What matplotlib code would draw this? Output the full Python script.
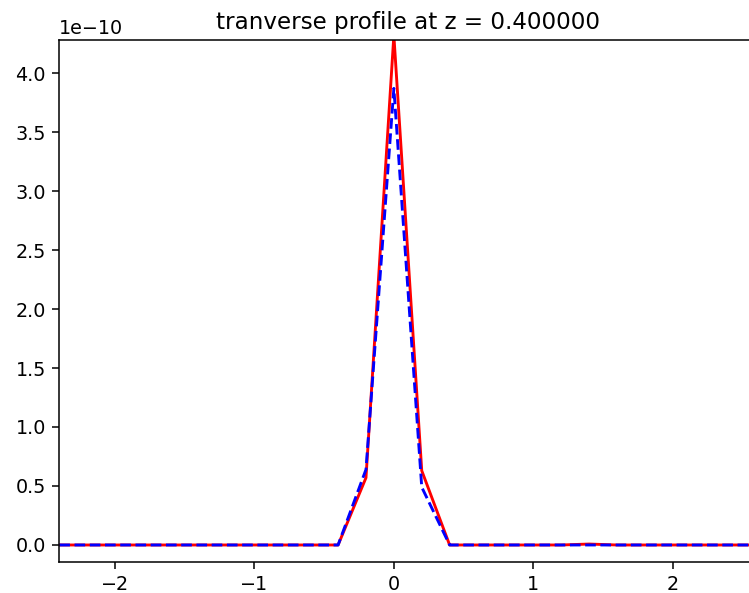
import matplotlib
matplotlib.use("Agg")
import matplotlib.pyplot as plt
import numpy as np

# transverse grid and profiles (units of 1e-10)
x = np.round(np.arange(-2.4, 2.61, 0.2), 1)
red_vals = {-0.2: 0.57, 0.0: 4.32, 0.2: 0.63, 1.4: 0.008}
blue_vals = {-0.2: 0.64, 0.0: 3.87, 0.2: 0.49}

red = np.array([red_vals.get(v, 0.0) for v in x]) * 1e-10
blue = np.array([blue_vals.get(v, 0.0) for v in x]) * 1e-10

dpi = 138
fig = plt.figure(figsize=(749 / dpi, 593 / dpi), dpi=dpi)
ax = fig.add_axes([59.3 / 749, 1 - 561.5 / 593, 697 / 749, 521.5 / 593])

ax.plot(x, red, 'r-')
ax.plot(x, blue, 'b--')

ax.set_xlim(-2.4, 2.6)
ax.set_ylim(-0.14e-10, 4.28e-10)
ax.set_title('tranverse profile at z = %f' % 0.4)
ax.spines['right'].set_visible(False)

fig.savefig('out.png', dpi=dpi)
